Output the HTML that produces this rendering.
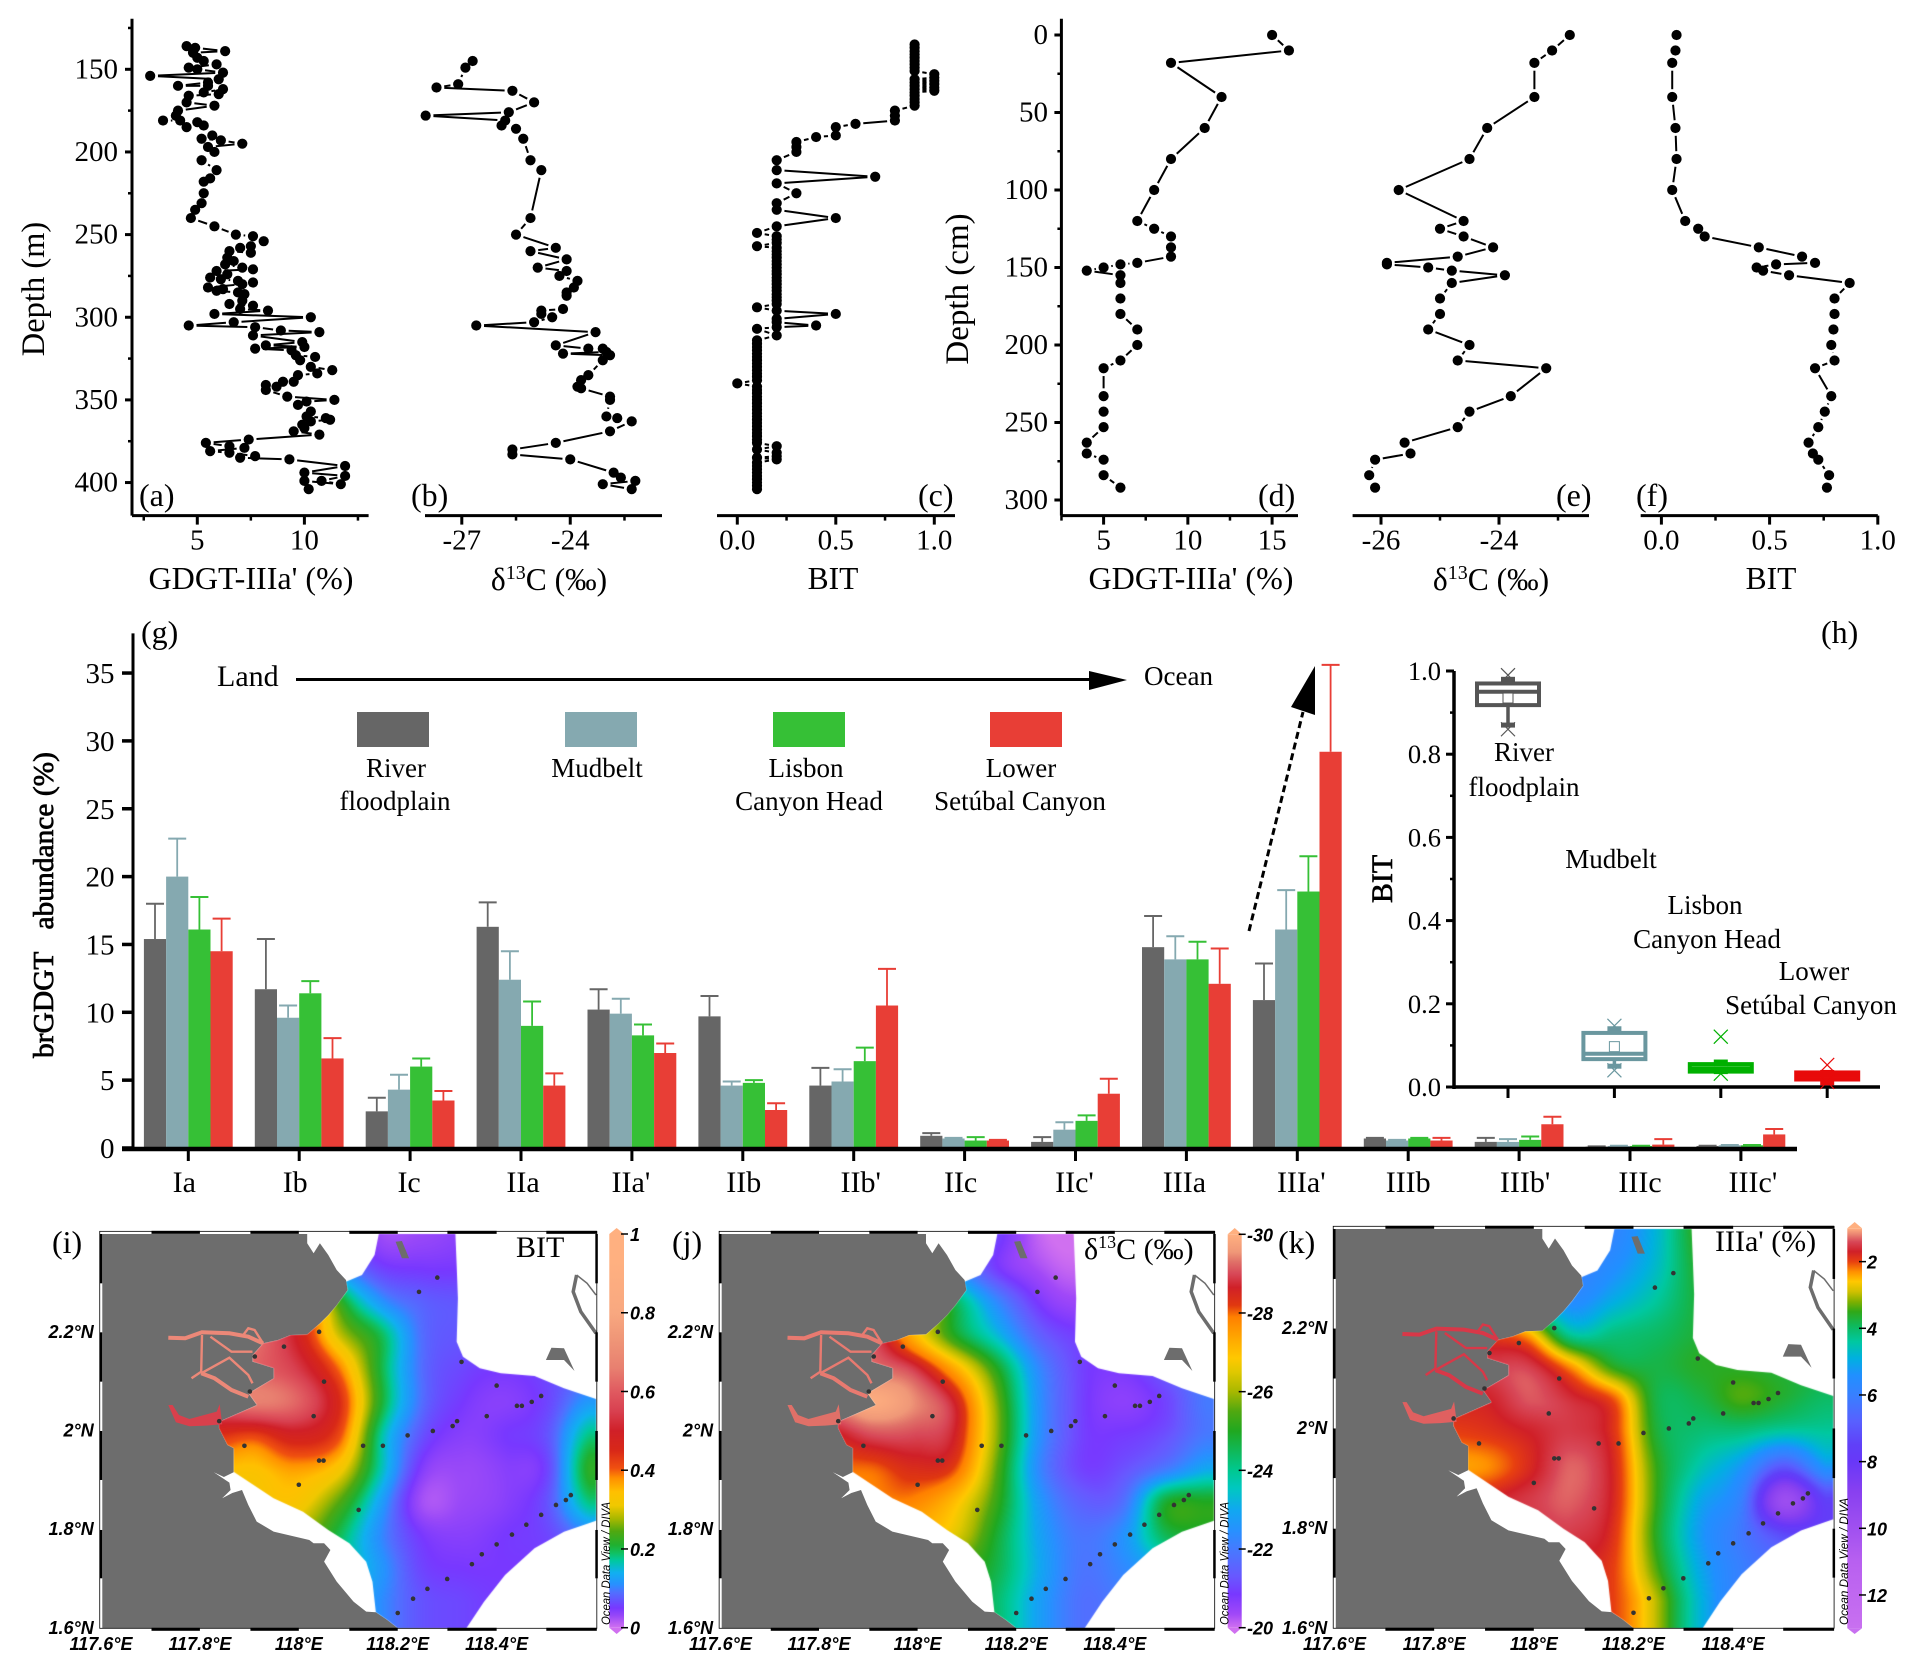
<!DOCTYPE html>
<html lang="en">
<head>
<meta charset="utf-8">
<title>brGDGT depth profiles, abundance and maps</title>
<style>
html,body{margin:0;padding:0;background:#fff;}
#page{position:relative;width:1916px;height:1676px;overflow:hidden;background:#fff;}
#maps-canvas{position:absolute;left:0;top:0;}
#figure{position:absolute;left:0;top:0;}
text{font-family:"Liberation Serif",serif;fill:#000;}
.t29{font-size:29px;}
.t31{font-size:31.5px;}
.t30{font-size:30px;}
.t32{font-size:32px;}
.t27{font-size:27px;}
.mp{font-family:"Liberation Sans",sans-serif;font-style:italic;font-weight:bold;font-size:18px;}
.odv{font-family:"Liberation Sans",sans-serif;font-style:italic;font-size:12px;}
</style>
</head>
<body>
<div id="page">
<canvas id="maps-canvas" width="1916" height="1676"></canvas>
<svg id="figure" width="1916" height="1676" viewBox="0 0 1916 1676" xmlns="http://www.w3.org/2000/svg">
  <defs id="defs"></defs>
  <g id="plots"></g>
  <g id="static-labels">
    <text class="t32" x="139" y="506">(a)</text>
    <text class="t32" x="411" y="506">(b)</text>
    <text class="t32" x="918" y="506">(c)</text>
    <text class="t32" x="1258" y="506">(d)</text>
    <text class="t32" x="1556" y="506">(e)</text>
    <text class="t32" x="1636" y="506">(f)</text>
    <text class="t32" x="141" y="643">(g)</text>
    <text class="t32" x="1821" y="643">(h)</text>
    <text class="t32" x="52" y="1253">(i)</text>
    <text class="t32" x="672" y="1253">(j)</text>
    <text class="t32" x="1278" y="1253">(k)</text>

    <text class="t31" x="251" y="589" text-anchor="middle" textLength="205" lengthAdjust="spacingAndGlyphs">GDGT-IIIa' (%)</text>
    <text class="t31" x="549" y="590" text-anchor="middle">δ<tspan dy="-11" font-size="20">13</tspan><tspan dy="11">C (‰)</tspan></text>
    <text class="t31" x="833" y="589" text-anchor="middle">BIT</text>
    <text class="t31" x="1191" y="589" text-anchor="middle" textLength="205" lengthAdjust="spacingAndGlyphs">GDGT-IIIa' (%)</text>
    <text class="t31" x="1491" y="590" text-anchor="middle">δ<tspan dy="-11" font-size="20">13</tspan><tspan dy="11">C (‰)</tspan></text>
    <text class="t31" x="1771" y="589" text-anchor="middle">BIT</text>
    <text transform="translate(44,289) rotate(-90)" text-anchor="middle" font-size="32.5">Depth (m)</text>
    <text transform="translate(968,289) rotate(-90)" text-anchor="middle" font-size="33">Depth (cm)</text>
    <text transform="translate(53,905) rotate(-90)" text-anchor="middle" font-size="28" textLength="306" lengthAdjust="spacingAndGlyphs" style="stroke:#000;stroke-width:.7px">brGDGT&#160;&#160;&#160;abundance (%)</text>
    <text transform="translate(1392,879) rotate(-90)" text-anchor="middle" font-size="30" style="stroke:#000;stroke-width:.6px">BIT</text>

    <text class="t30" x="217" y="686">Land</text>
    <text class="t27" x="1144" y="685">Ocean</text>

    <text class="t27" x="396" y="777" text-anchor="middle">River</text>
    <text class="t27" x="395" y="810" text-anchor="middle">floodplain</text>
    <text class="t27" x="597" y="777" text-anchor="middle">Mudbelt</text>
    <text class="t27" x="806" y="777" text-anchor="middle">Lisbon</text>
    <text class="t27" x="809" y="810" text-anchor="middle">Canyon Head</text>
    <text class="t27" x="1021" y="777" text-anchor="middle">Lower</text>
    <text class="t27" x="1020" y="810" text-anchor="middle">Setúbal Canyon</text>

    <text class="t27" x="1524" y="761" text-anchor="middle">River</text>
    <text class="t27" x="1524" y="796" text-anchor="middle">floodplain</text>
    <text class="t27" x="1611" y="868" text-anchor="middle">Mudbelt</text>
    <text class="t27" x="1705" y="914" text-anchor="middle">Lisbon</text>
    <text class="t27" x="1707" y="948" text-anchor="middle">Canyon Head</text>
    <text class="t27" x="1814" y="980" text-anchor="middle">Lower</text>
    <text class="t27" x="1811" y="1014" text-anchor="middle">Setúbal Canyon</text>
  </g>
  <g id="map-overlays"></g>
  <g id="map-titles">
    <text class="t30" x="516" y="1257">BIT</text>
    <text class="t30" x="1084" y="1259">δ<tspan dy="-11" font-size="18">13</tspan><tspan dy="11">C (‰)</tspan></text>
    <text class="t30" x="1715" y="1251">IIIa' (%)</text>
  </g>
</svg>
</div>
<script>
/* ---------- depth profile data ---------- */
const depthA=[136,137,139,140,143,145,147,149,150,152,154,156,158,160,160,162,164,165,166,170,172,175,178,181,181,185,182,184,190,192,193,195,197,200,205,211,216,218,225,231,235,240,245,250,251,254,257,258,261,260,264,266,268,270,271,272,274,276,277,278,279,280,282,283,284,285,286,290,292,293,295,296,298,300,303,305,306,308,309,311,315,317,318,319,320,323,324,326,330,332,334,335,339,339,341,342,344,348,350,351,353,357,360,361,362,363,365,367,369,371,374,376,378,379,381,382,384,385,386,390,394,396,399,401,399,404];
const gdgtA=[4.5,4.9,6.3,4.8,5,5.3,5.9,4.6,5,6.2,2.8,6,5.5,4.1,5.5,6.2,5.3,6,4.6,4.5,5.8,4.1,4,3.4,4.2,4.5,5,5.3,5.7,5.2,6.1,7.1,5.5,5.8,5.2,5.9,5.6,5.3,5.3,5.2,4.9,4.7,5.8,6.8,7.6,8.1,7.5,7,7.5,6.5,6.4,6.7,6.3,7.1,7.6,5.9,6.4,5.6,6.1,6.9,7.6,7.1,5.5,6.2,5.9,6.9,7.2,7.1,6.5,7.6,7,8.3,5.8,10.3,6.7,4.6,7.7,8.9,10.7,7.6,9.9,8.2,10,7.7,9.4,9.6,10.5,9.8,10.3,11.3,10.6,9.7,9.5,9,8.2,8.7,8.2,9.2,11.4,10.1,9.7,10.3,10.1,11,11.2,10.3,9.9,10,9.5,10.7,7.4,5.4,6.5,7.2,5.6,6.5,7.7,7,9.3,11.9,10,11.9,10.8,11.7,10,10.2];
const depthB=[145,149,159,161,163,170,176,178,181,184,186,192,205,211,240,250,258,260,265,270,272,275,278,282,285,287,295,296,298,300,303,305,309,317,319,319,321,322,323,326,335,338,342,343,348,350,360,361,363,369,376,380,383,386,394,397,399,401,404];
const d13cB=[-26.7,-26.9,-27.1,-27.7,-25.6,-25,-25.7,-28,-25.8,-25.9,-25.5,-25.3,-25.1,-24.8,-25.1,-25.5,-24.4,-25.1,-24.1,-24.9,-24.1,-24.3,-23.8,-23.9,-24.1,-24.1,-24.2,-24.8,-24.8,-24.5,-25,-26.6,-23.3,-24.4,-23.5,-23.1,-23,-24.2,-22.9,-23.1,-23.5,-23.7,-23.8,-23.7,-22.9,-22.9,-23,-22.7,-22.3,-22.9,-24.4,-25.6,-25.6,-24,-22.8,-22.6,-22.2,-23.1,-22.3];
const depthC=[135,137,139,141,143,145,147,149,151,153,155,156,157,158,159,160,161,162,163,164,166,168,170,172,175,178,181,183,185,190,191,194,197,200,205,211,215,219,225,231,235,240,245,249,251,253,255,257,258,260,262,264,266,268,270,272,274,276,278,280,282,284,286,288,290,292,294,296,298,301,303,305,306,307,311,314,316,318,320,322,324,326,328,330,332,334,336,338,340,342,344,346,348,350,352,354,356,358,360,362,364,366,368,370,372,374,376,378,380,382,384,385,386,388,390,392,394,396,398,400,402,404];
const bitC=[.9,.9,.9,.9,.9,.9,.9,.9,.9,1,1,.9,1,.9,1,.9,1,.9,1,.9,.9,.9,.9,.9,.8,.8,.8,.6,.5,.5,.4,.3,.3,.3,.2,.2,.7,.2,.3,.2,.2,.5,.2,.1,.2,.2,.2,.1,.2,.2,.2,.2,.2,.2,.2,.2,.2,.2,.2,.2,.2,.2,.2,.2,.2,.2,.1,.2,.5,.2,.2,.4,.2,.1,.2,.1,.1,.1,.1,.1,.1,.1,.1,.1,.1,.1,.1,.1,0,.1,.1,.1,.1,.1,.1,.1,.1,.1,.1,.1,.1,.1,.1,.1,.1,.1,.1,.2,.1,.2,.2,.1,.2,.1,.1,.1,.1,.1,.1,.1,.1,.1];
const coreDepth=[0,10,18,40,60,80,100,120,125,130,137,143,147,148,150,152,155,160,170,180,190,200,210,215,233,243,253,263,270,274,284,292];
const coreGdgt=[15,16,9,12,11,9,8,7,8,9,9,9,7,6,5,4,6,6,6,6,7,7,6,5,5,5,5,4,4,5,5,6];
const coreD13c=[-22.8,-23.1,-23.4,-23.4,-24.2,-24.5,-25.7,-24.6,-25,-24.6,-24.1,-24.7,-25.9,-25.9,-25.2,-24.8,-23.9,-24.8,-25,-25,-25.2,-24.5,-24.7,-23.2,-23.8,-24.5,-24.7,-25.6,-25.5,-26.1,-26.2,-26.1];
const coreBit=[.07,.065,.05,.05,.065,.07,.05,.11,.17,.2,.45,.65,.71,.53,.44,.47,.59,.87,.8,.8,.795,.785,.8,.71,.785,.755,.725,.68,.7,.725,.775,.765];

/* ---------- tick labels ---------- */
const depthTicksM=[150,200,250,300,350,400];
const depthTicksCm=[0,50,100,150,200,250,300];
const gdgtTicksA=[5,10];
const d13cTicksB=[-27,-24];
const bitTicks=[0,0.5,1];
const gdgtTicksD=[5,10,15];
const d13cTicksE=[-26,-24];
const abundanceTicks=[0,5,10,15,20,25,30,35];
const boxTicks=[0,0.2,0.4,0.6,0.8,1];

/* ---------- bar chart data ---------- */
const categories=["Ia","Ib","Ic","IIa","IIa'","IIb","IIb'","IIc","IIc'","IIIa","IIIa'","IIIb","IIIb'","IIIc","IIIc'"];
const riverMean=[15.4,11.7,2.7,16.3,10.2,9.7,4.6,.9,.45,14.8,10.9,.7,.45,.1,.15];
const riverTop=[18,15.4,3.7,18.1,11.7,11.2,5.9,1.1,.8,17.1,13.6,.75,.75,.12,.17];
const mudMean=[20,9.6,4.3,12.4,9.9,4.6,4.9,.7,1.35,13.9,16.1,.55,.45,.15,.2];
const mudTop=[22.8,10.5,5.4,14.5,11,4.9,5.8,.75,1.9,15.6,19,.6,.65,.17,.22];
const lisbonMean=[16.1,11.4,6,9,8.3,4.8,6.4,.55,2,13.9,18.9,.7,.6,.15,.2];
const lisbonTop=[18.5,12.3,6.6,10.8,9.1,5,7.4,.8,2.4,15.2,21.5,.75,.85,.17,.22];
const setubalMean=[14.5,6.6,3.5,4.6,7,2.8,10.5,.55,4,12.1,29.2,.55,1.75,.25,1];
const setubalTop=[16.9,8.1,4.2,5.5,7.7,3.3,13.2,.6,5.1,14.7,35.6,.75,2.3,.65,1.4];

/* ---------- box plot data ---------- */
const boxQ1=[.918,.067,.037,.018];
const boxMedian=[.95,.08,.045,.027];
const boxQ3=[.97,.13,.055,.035];
const boxLow=[.87,.05,.037,.01];
const boxHigh=[.98,.14,.06,.035];
const boxAverage=[.935,.097,.045,.027];
const boxOutMin=[.86,.04,.032,.012];
const boxOutMax=[.99,.147,.121,.053];

/* ---------- map data: interpolated station values on a coarse grid ---------- */
const bitGrid=[
[.2,.2,.15,.1,.03,.03,.04,.05,.05,.05],
[.3,.3,.2,.12,.06,.05,.05,.05,.05,.05],
[.6,.6,.5,.24,.12,.08,.07,.06,.06,.06],
[.66,.64,.5,.3,.2,.09,.07,.06,.05,.06],
[.68,.62,.55,.4,.21,.09,.06,.05,.06,.08],
[.6,.66,.62,.46,.22,.09,.05,.04,.06,.12],
[.45,.42,.48,.42,.18,.07,.04,.05,.07,.18],
[.35,.34,.37,.33,.17,.045,.03,.04,.06,.22],
[.3,.32,.33,.25,.13,.025,.03,.04,.07,.18],
[.28,.28,.28,.2,.11,.05,.04,.05,.06,.1],
[.2,.2,.2,.18,.12,.06,.05,.05,.05,.05],
[.15,.15,.15,.15,.11,.07,.06,.05,.05,.05]];
const d13cGrid=[
[-25,-25,-24,-22,-21,-20.1,-20.05,-21,-21,-21],
[-26,-26,-25,-22.5,-20.9,-20.3,-20.1,-20.8,-20.8,-21],
[-28,-28,-27,-24.5,-22.3,-20.8,-20.4,-20.8,-20.8,-21],
[-29,-29,-27.2,-25,-23.3,-21.5,-20.9,-20.9,-20.9,-21],
[-29.5,-29.3,-28.9,-27.3,-25,-22.3,-21,-20.8,-21.3,-22],
[-29.5,-29.9,-29.5,-28.6,-25.7,-22.5,-21,-20.6,-21,-22],
[-28.5,-29,-29,-28.6,-25.8,-22.5,-21,-20.9,-21.2,-22],
[-28,-28,-28.4,-28.1,-25.5,-22.3,-21,-21.2,-22,-23],
[-27.8,-27.8,-27.8,-27,-25.2,-22.7,-21.5,-21.8,-24.8,-25],
[-27,-27,-27,-26.5,-24.8,-22.9,-21.9,-22.5,-24.5,-24.8],
[-26,-26,-26,-25.5,-24.6,-23,-21.9,-22.3,-23,-23.5],
[-25,-25,-25,-25,-24.3,-22.8,-21.8,-22,-22,-22]];
const iiiaGrid=[
[6,6,6,6,5.8,4.8,3.5,3.8,3.8,3.8],
[6,6,6,6,5.5,4.7,3.6,3.6,3.6,3.6],
[3,3,5,5.6,5,4.4,3.7,3.6,3.6,3.6],
[1.6,2,2.6,4.5,4.2,4,3.7,3.6,3.6,3.7],
[1.5,1.5,1.5,2.4,3.6,3.8,3.6,3.6,3.7,3.8],
[1.7,1.7,1.35,1.6,2.1,3.8,3.8,3.4,3.7,4],
[2,1.9,1.7,1.5,1.9,3.7,4.1,4.2,4.5,4.4],
[2.4,2.3,1.8,1.3,1.8,3.5,4.5,5.3,7,5.3],
[1.8,1.7,1.5,1.32,1.8,3.5,5,6,9.8,7.5],
[1.6,1.6,1.6,1.5,1.9,3.6,5.2,6.2,7.3,7.5],
[1.8,1.8,1.8,1.8,2,3.4,5,6,6.5,6.5],
[1.8,1.8,1.8,1.8,2,3,4.8,6,6,6]];
const stationLon=[118.28,118.243,118.041,117.97,117.911,118.051,117.901,118.4,118.49,118.471,118.451,118.441,118.38,118.32,118.311,118.271,118.22,118.17,118.13,118.03,117.839,117.89,118.041,118.05,118,118.121,118.55,118.54,118.52,118.49,118.46,118.431,118.4,118.37,118.35,118.3,118.26,118.231,118.2,118.329];
const stationLat=[2.311,2.282,2.201,2.171,2.151,2.1,2.08,2.092,2.071,2.059,2.051,2.051,2.03,2.02,2.01,2,1.991,1.97,1.97,2.03,2.02,1.97,1.94,1.94,1.891,1.84,1.87,1.86,1.85,1.83,1.81,1.79,1.77,1.75,1.73,1.7,1.68,1.66,1.631,2.14];
const lonTicks=[117.6,117.8,118,118.2,118.4];
const lonTickLabels=["117.6°E","117.8°E","118°E","118.2°E","118.4°E"];
const latTicks=[1.6,1.8,2,2.2];
const latTickLabels=["1.6°N","1.8°N","2°N","2.2°N"];
const bitScale=[[0,"#d070f0"],[.03,"#9848f8"],[.05,"#7838ff"],[.09,"#5070ff"],[.11,"#2890ff"],[.14,"#10b0f0"],[.17,"#00c8a0"],[.19,"#10c060"],[.21,"#20b030"],[.245,"#50a810"],[.277,"#a8b800"],[.31,"#f0c800"],[.345,"#ffc000"],[.38,"#ff9000"],[.405,"#f05010"],[.45,"#d82818"],[.5,"#d02028"],[.55,"#d84050"],[.6,"#e05a60"],[.66,"#e88070"],[.74,"#f09878"],[.8,"#f8a880"],[.93,"#ffb080"],[1,"#ffb080"]];
const d13cScale=[[-30,"#ffb080"],[-29.55,"#f09878"],[-29.3,"#e07068"],[-29,"#d84858"],[-28.65,"#d02028"],[-28.2,"#e03810"],[-27.9,"#ff8000"],[-27.35,"#ffa800"],[-26.85,"#ffc800"],[-26.5,"#e0c800"],[-26,"#a8b800"],[-25.5,"#50a810"],[-25,"#20a820"],[-24.5,"#10b858"],[-24,"#00c890"],[-23.55,"#00c8c0"],[-23,"#10a8f0"],[-22.45,"#2890ff"],[-21.95,"#4878ff"],[-21.3,"#6858ff"],[-20.85,"#7838ff"],[-20.35,"#a048f8"],[-20,"#d070f0"]];
const iiiaScale=[[1,"#ffb080"],[1.2,"#e88070"],[1.4,"#d84858"],[1.7,"#d02028"],[2,"#e84010"],[2.3,"#ff9000"],[2.6,"#ffc800"],[2.9,"#d0c000"],[3.2,"#80b000"],[3.5,"#30a818"],[3.9,"#10b858"],[4.4,"#00c8a0"],[4.9,"#00b0e0"],[5.4,"#2090ff"],[6,"#3880ff"],[6.8,"#5860ff"],[7.5,"#6040f8"],[8,"#6838f8"],[8.9,"#8840f0"],[10,"#a050f0"],[11,"#b860f0"],[13,"#c870f0"]];
const bitBarTicks=[0,.2,.4,.6,.8,1];
const d13cBarTicks=[-20,-22,-24,-26,-28,-30];
const iiiaBarTicks=[2,4,6,8,10,12];

/* ---------- helpers ---------- */
const NS="http://www.w3.org/2000/svg";
const plots=document.getElementById("plots");
const overlays=document.getElementById("map-overlays");
function mk(tag,attrs,parent){
  const e=document.createElementNS(NS,tag);
  for(const k in attrs){e.setAttribute(k,attrs[k]);}
  if(parent){parent.appendChild(e);}
  return e;
}
function fmt(v,d){return d?v.toFixed(d):String(v);}

/* ---------- scales ---------- */
const yA=d=>69.3+(d-150)*1.653;
const yD=d=>35+d*1.55;
const xA=v=>197.3+(v-5)*21.42;
const xB=v=>461.8+(v+27)*36.15;
const xC=v=>737.3+v*197;
const xD=v=>1103.6+(v-5)*16.85;
const xE=v=>1381+(v+26)*59;
const xF=v=>1661.4+v*216.4;
const yG=v=>1148-v*13.57;
const xG=i=>188.3+i*110.9;
const yH=v=>1087-v*416;
const xH=i=>1508+i*106.4;

/* ---------- axes ---------- */
function axisLine(x1,y1,x2,y2,w,parent){
  const l=mk("line",{x1:x1,y1:y1,x2:x2,y2:y2,stroke:"#000","stroke-width":w},parent);
  
  
}
function tickMark(x1,y1,x2,y2,w,parent){
  const l=mk("line",{x1:x1,y1:y1,x2:x2,y2:y2,stroke:"#000","stroke-width":w},parent);
  
  
}
function tickText(x,y,str,anchor,size,parent){
  const t=mk("text",{x:x,y:y,"text-anchor":anchor,"font-size":size},parent);
  t.textContent=str;
  
  
}
function xAxis(x0,x1,yPos,scale,ticks,step,digits,parent){
  axisLine(x0,yPos,x1,yPos,3,parent);
  ticks.forEach(v=>{
    tickMark(scale(v),yPos,scale(v),yPos+9,3,parent);
    tickText(scale(v),yPos+34,fmt(v,digits),"middle",29,parent);
  });
  for(let i=0;i<ticks.length;i++){
    const m=ticks[i]+step/2;
    if(scale(m)<=x1){tickMark(scale(m),yPos,scale(m),yPos+5,2.5,parent);}
  }
  const m0=ticks[0]-step/2;
  if(scale(m0)>=x0){tickMark(scale(m0),yPos,scale(m0),yPos+5,2.5,parent);}
}
function yAxis(xPos,y0,y1,scale,ticks,step,labelX,parent){
  axisLine(xPos,y0,xPos,y1,3,parent);
  ticks.forEach(v=>{
    tickMark(xPos-7,scale(v),xPos,scale(v),3,parent);
    tickText(labelX,scale(v)+9,String(v),"end",29,parent);
  });
  const first=ticks[0]-step/2;
  if(scale(first)>=y0){tickMark(xPos-4,scale(first),xPos,scale(first),2.5,parent);}
  ticks.forEach(v=>{
    const m=v+step/2;
    if(scale(m)<=y1){tickMark(xPos-4,scale(m),xPos,scale(m),2.5,parent);}
  });
}

/* ---------- profile marks ---------- */
function profile(values,depths,xs,ys,parent){
  const r=5.1, gap=7.8;
  for(let i=0;i<values.length-1;i++){
    const x1=xs(values[i]),y1=ys(depths[i]),x2=xs(values[i+1]),y2=ys(depths[i+1]);
    const dx=x2-x1,dy=y2-y1,len=Math.hypot(dx,dy);
    if(len>gap*2){
      const ux=dx/len,uy=dy/len;
      const s=mk("line",{x1:x1+ux*gap,y1:y1+uy*gap,x2:x2-ux*gap,y2:y2-uy*gap,stroke:"#000","stroke-width":2},parent);
      
      
    }
  }
  values.forEach((v,i)=>{
    const c=mk("circle",{cx:xs(v),cy:ys(depths[i]),r:r,fill:"#000"},parent);
    
    
  });
}

const gA=mk("g",{},plots);


yAxis(132,18.7,515.6,yA,depthTicksM,50,118,gA);
xAxis(132,368.6,515.6,xA,gdgtTicksA,5,0,gA);
profile(gdgtA,depthA,xA,yA,gA);

const gB=mk("g",{},plots);


xAxis(425,662,515.6,xB,d13cTicksB,3,0,gB);
profile(d13cB,depthB,xB,yA,gB);

const gC=mk("g",{},plots);


xAxis(717,955,515.6,xC,bitTicks,.5,1,gC);
profile(bitC,depthC,xC,yA,gC);

const gD=mk("g",{},plots);


yAxis(1061.4,18.7,515.6,yD,depthTicksCm,50,1048,gD);
xAxis(1061.4,1298,515.6,xD,gdgtTicksD,5,0,gD);
profile(coreGdgt,coreDepth,xD,yD,gD);

const gE=mk("g",{},plots);


xAxis(1352.6,1589,515.6,xE,d13cTicksE,2,0,gE);
profile(coreD13c,coreDepth,xE,yD,gE);

const gF=mk("g",{},plots);


xAxis(1640.7,1877.8,515.6,xF,bitTicks,.5,1,gF);
profile(coreBit,coreDepth,xF,yD,gF);

/* ---------- panel g: bars ---------- */
const gG=mk("g",{},plots);


const seriesMeans=[riverMean,mudMean,lisbonMean,setubalMean];
const seriesTops=[riverTop,mudTop,lisbonTop,setubalTop];
const seriesColors=["#666666","#85a9b0","#36c036","#e83e36"];
const BW=22.2;
seriesMeans.forEach((vals,s)=>{
  vals.forEach((v,i)=>{
    const x=xG(i)-44.4+s*BW;
    const cx=x+BW/2;
    const top=seriesTops[s][i];
    const st=mk("line",{x1:cx,y1:yG(v),x2:cx,y2:yG(top),stroke:seriesColors[s],"stroke-width":1.8},gG);
    
    
    const cp=mk("line",{x1:cx-9,y1:yG(top),x2:cx+9,y2:yG(top),stroke:seriesColors[s],"stroke-width":2},gG);
    
    
    const b=mk("rect",{x:x,y:yG(v),width:BW,height:yG(0)-yG(v),fill:seriesColors[s]},gG);
    
    
  });
  const sw=mk("rect",{x:[357,565,773,990][s],y:712,width:72,height:35,fill:seriesColors[s]},gG);
  
  
});
axisLine(133,633.4,133,1149,3,gG);
axisLine(122,1149,1797,1149,4.5,gG);
abundanceTicks.forEach(v=>{
  tickMark(122,yG(v),133,yG(v),3.5,gG);
  tickText(114.5,yG(v)+10,String(v),"end",29,gG);
});
categories.forEach((c,i)=>{
  const nudge=[-4,-4,-1,2,-1,1,7,-4,-1,-2,4,0,6,10,12][i];
  tickMark(xG(i),1149,xG(i),1161,3,gG);
  tickText(xG(i)+nudge,1192,c,"middle",30,gG);
});
const landLine=mk("line",{x1:296,y1:679.5,x2:1095,y2:679.5,stroke:"#000","stroke-width":3},gG);


const landHead=mk("polygon",{points:"1089,671 1127,680 1089,690",fill:"#000"},gG);


const dashLine=mk("line",{x1:1249,y1:931,x2:1303,y2:712,stroke:"#000","stroke-width":3,"stroke-dasharray":"7 4"},gG);


const dashHead=mk("polygon",{points:"1315,666 1291,707 1315,715",fill:"#000"},gG);



/* ---------- panel h: box plot ---------- */
const gH=mk("g",{},plots);


const boxColors=["#555555","#6a979f","#00b000","#e80a0a"];
axisLine(1454,671,1454,1089,3.5,gH);
axisLine(1454,1087,1880,1087,3.5,gH);
boxTicks.forEach(v=>{
  tickMark(1446,yH(v),1454,yH(v),3,gH);
  tickText(1441,yH(v)+9,v.toFixed(1),"end",26.5,gH);
  if(v<1){tickMark(1450,yH(v+.1),1454,yH(v+.1),2.5,gH);}
});
boxQ1.forEach((q,i)=>{
  const cx=xH(i),col=boxColors[i];
  tickMark(cx,1087,cx,1098,3,gH);
  const wh=mk("line",{x1:cx,y1:yH(boxLow[i]),x2:cx,y2:yH(boxHigh[i]),stroke:col,"stroke-width":3.5},gH);
  
  
  [boxLow[i],boxHigh[i]].forEach(w=>{
    const cap=mk("rect",{x:cx-7,y:yH(w)-2.5,width:14,height:5,fill:col},gH);
    
    
  });
  const fill=mk("rect",{x:cx-31,y:yH(boxQ3[i]),width:62,height:Math.max(.5,yH(q)-yH(boxQ3[i])),fill:"#fff",stroke:col,"stroke-width":4},gH);
  
  
  const med=mk("line",{x1:cx-31,y1:yH(boxMedian[i]),x2:cx+31,y2:yH(boxMedian[i]),stroke:col,"stroke-width":4},gH);
  
  
  if(i<2){
    const av=mk("rect",{x:cx-5,y:yH(boxAverage[i])-5,width:10,height:10,fill:"#fff",stroke:col,"stroke-width":1},gH);
    
    
  }
  [boxOutMin[i],boxOutMax[i]].forEach(o=>{
    const xm=mk("path",{d:"M"+(cx-7)+" "+(yH(o)-7)+"L"+(cx+7)+" "+(yH(o)+7)+"M"+(cx+7)+" "+(yH(o)-7)+"L"+(cx-7)+" "+(yH(o)+7),stroke:col,"stroke-width":1.2,fill:"none"},gH);
    
    
  });
});

/* ---------- map geometry (coast traced in map units) ---------- */
const fieldOutline=[[900,57],[1082,57],[1085,150],[1088,250],[1085,380],[1100,425],[1140,460],[1190,475],[1270,483],[1340,520],[1416,552],[1416,917],[1340,950],[1270,1000],[1200,1080],[1150,1160],[1108,1240],[945,1240],[920,1215],[893,1192],[885,1100],[870,1040],[830,985],[780,945],[720,890],[650,850],[555,770],[555,700],[540,690],[520,640],[520,620],[610,570],[590,535],[650,490],[650,460],[600,440],[600,420],[625,385],[660,375],[690,360],[730,358],[760,325],[780,300],[800,270],[826,225],[822,200],[860,180],[890,120]];
const landOutline=[[243,57],[730,57],[730,85],[745,115],[760,85],[780,120],[800,165],[822,195],[826,225],[800,270],[780,300],[760,325],[730,358],[690,360],[660,375],[625,385],[600,420],[600,440],[650,460],[650,490],[590,535],[610,570],[520,620],[520,640],[540,690],[555,700],[555,772],[532,786],[508,772],[545,803],[548,825],[528,850],[552,834],[575,825],[590,870],[610,920],[650,950],[735,975],[745,985],[770,985],[785,1005],[770,1040],[800,1100],[840,1160],[870,1190],[893,1192],[920,1215],[945,1240],[243,1240]];
const islandA=[[940,80],[955,78],[972,130],[955,130]];
const islandB=[[1297,435],[1310,398],[1340,400],[1365,468],[1340,435]];
const reefOuter=[[1370,180],[1362,230],[1380,290],[1416,355]];
const reefInner=[[1370,180],[1395,205],[1416,240]];
const channels=[
 [[400,368],[440,370],[480,352],[545,355],[590,365],[625,385]],
 [[480,360],[478,470],[455,490]],
 [[478,475],[510,490],[550,525],[590,545]],
 [[478,475],[545,428],[590,480],[600,505]],
 [[500,365],[550,410],[600,410]],
 [[575,365],[590,340],[605,345],[625,385]]
];
const lowerChannel=[[400,570],[410,570],[425,600],[450,612],[515,590],[522,568],[528,628],[490,632],[450,634],[418,622]];
const frameHoriz=[[360,475],[595,710],[830,945],[1063,1180],[1298,1418]];
const frameVert=[[57,205],[352,500],[648,795],[945,1090]];

const mapPanels=[
 {name:"bit",grid:bitGrid,scale:bitScale,x0:101,sx:.4209,y0:1234,sy:.3333,chan:"#ec8878",low:"#d8404c",
  bx:609.3,bw:14.7,vTop:1,vBot:0,yTop:1234,yBot:1627.7,tipT:1228,tipB:1634,ticks:bitBarTicks,lab:630,odvX:610,odvTop:1502},
 {name:"d13c",grid:d13cGrid,scale:d13cScale,x0:720.4,sx:.4196,y0:1234,sy:.3333,chan:"#e87a70",low:"#e07068",
  bx:1227.7,bw:14,vTop:-30,vBot:-20,yTop:1234.3,yBot:1627.7,tipT:1228,tipB:1634,ticks:d13cBarTicks,lab:1247,odvX:1228.5,odvTop:1502},
 {name:"iiia",grid:iiiaGrid,scale:iiiaScale,x0:1334.5,sx:.4241,y0:1229,sy:.3375,chan:"#d83848",low:"#e06060",
  bx:1847.3,bw:14.7,vTop:1,vBot:13,yTop:1228.3,yBot:1628.3,tipT:1222,tipB:1634,ticks:iiiaBarTicks,lab:1867,odvX:1848,odvTop:1498}
];

/* ---------- colour + interpolation ---------- */
function hexRgb(h){return [parseInt(h.substr(1,2),16),parseInt(h.substr(3,2),16),parseInt(h.substr(5,2),16)];}
function colorAt(s,v){
  if(v<=s[0][0]){return hexRgb(s[0][1]);}
  if(v>=s[s.length-1][0]){return hexRgb(s[s.length-1][1]);}
  for(let i=0;i<s.length-1;i++){
    if(v>=s[i][0]&&v<=s[i+1][0]){
      const t=(v-s[i][0])/(s[i+1][0]-s[i][0]);
      const a=hexRgb(s[i][1]),b=hexRgb(s[i+1][1]);
      return [a[0]+(b[0]-a[0])*t,a[1]+(b[1]-a[1])*t,a[2]+(b[2]-a[2])*t];
    }
  }
  return [0,0,0];
}
function cr(p0,p1,p2,p3,t){
  return .5*((2*p1)+(-p0+p2)*t+(2*p0-5*p1+4*p2-p3)*t*t+(-p0+3*p1-3*p2+p3)*t*t*t);
}
function sample(grid,u,v){
  const gx=Math.max(0,Math.min(9,(u-500)/100));
  const gy=Math.max(0,Math.min(11,(v-60)/100));
  const ix=Math.min(8,Math.floor(gx)),iy=Math.min(10,Math.floor(gy));
  const tx=gx-ix,ty=gy-iy;
  const row=j=>{
    const r=grid[Math.max(0,Math.min(11,j))];
    const at=i=>r[Math.max(0,Math.min(9,i))];
    return cr(at(ix-1),at(ix),at(ix+1),at(ix+2),tx);
  };
  return cr(row(iy-1),row(iy),row(iy+1),row(iy+2),ty);
}

/* ---------- draw maps ---------- */
const ctx=document.getElementById("maps-canvas").getContext("2d");
mapPanels.forEach(p=>{
  const X=u=>p.x0+(u-240)*p.sx;
  const Y=v=>p.y0+(v-57)*p.sy;
  const pts=a=>a.map(q=>X(q[0]).toFixed(1)+","+Y(q[1]).toFixed(1)).join(" ");
  const w=Math.ceil(1180*p.sx)+2,h=Math.ceil(1186*p.sy)+2;
  const off=document.createElement("canvas");
  off.width=w;off.height=h;
  const oc=off.getContext("2d");
  const img=oc.createImageData(w,h);
  for(let j=0;j<h;j++){
    for(let i=0;i<w;i++){
      const u=240+i/p.sx,v=57+j/p.sy;
      const c=colorAt(p.scale,sample(p.grid,u,v));
      const k=(j*w+i)*4;
      img.data[k]=c[0];img.data[k+1]=c[1];img.data[k+2]=c[2];img.data[k+3]=255;
    }
  }
  oc.putImageData(img,0,0);
  ctx.save();
  ctx.beginPath();
  fieldOutline.forEach((q,i)=>{
    if(i){ctx.lineTo(X(q[0]),Y(q[1]));}else{ctx.moveTo(X(q[0]),Y(q[1]));}
  });
  ctx.closePath();
  ctx.clip();
  ctx.drawImage(off,Math.floor(p.x0),Math.floor(p.y0));
  ctx.restore();

  const g=mk("g",{},overlays);
  
  
  const land=mk("polygon",{points:pts(landOutline),fill:"#6d6d6d"},g);
  
  
  [islandA,islandB].forEach(a=>{
    const isl=mk("polygon",{points:pts(a),fill:"#6d6d6d"},g);
    
    
  });
  [reefOuter,reefInner].forEach((a,i)=>{
    const rf=mk("polyline",{points:pts(a),fill:"none",stroke:"#6d6d6d","stroke-width":i?1.5:3.5},g);
    
    
  });
  channels.forEach((a,i)=>{
    const ch=mk("polyline",{points:pts(a),fill:"none",stroke:p.chan,"stroke-width":i==0?4:(i==2?4:2.4)},g);
    
    
  });
  const lc=mk("polygon",{points:pts(lowerChannel),fill:p.low},g);
  
  

  stationLon.forEach((lo,i)=>{
    const u=240+(lo-117.6)*1175,v=1240-(stationLat[i]-1.6)*1480;
    const d=mk("circle",{cx:X(u),cy:Y(v),r:2.3,fill:"#333"},g);
    
    
  });

  /* frame */
  const L=X(237),R=X(1418),T=Y(49),B=Y(1240);
  const fr=mk("rect",{x:L,y:T,width:R-L,height:B-T,fill:"none",stroke:"#000","stroke-width":.8},g);
  
  
  frameHoriz.forEach(q=>{
    const t=mk("rect",{x:X(q[0]),y:T-.5,width:(q[1]-q[0])*p.sx,height:3,fill:"#000"},g);
    
    
    const b=mk("rect",{x:X(q[0]),y:B-.5,width:(q[1]-q[0])*p.sx,height:3,fill:"#000"},g);
    
    
  });
  frameVert.forEach(q=>{
    const t=mk("rect",{x:L,y:Y(q[0]),width:2.5,height:(q[1]-q[0])*p.sy,fill:"#000"},g);
    
    
    const b=mk("rect",{x:R-1.5,y:Y(q[0]),width:2.5,height:(q[1]-q[0])*p.sy,fill:"#000"},g);
    
    
  });

  /* geographic tick labels */
  lonTicks.forEach((lo,i)=>{
    const t=mk("text",{x:X(240+(lo-117.6)*1175),y:1650,"text-anchor":"middle","class":"mp"},g);
    t.textContent=lonTickLabels[i];
    
    
  });
  latTicks.forEach((la,i)=>{
    const t=mk("text",{x:L-6,y:Y(1240-(la-1.6)*1480)+5.5,"text-anchor":"end","class":"mp"},g);
    t.textContent=latTickLabels[i];
    
    
  });

  /* colour bar */
  const gid="grad-"+p.name;
  const lg=mk("linearGradient",{id:gid,x1:0,y1:0,x2:0,y2:1},document.getElementById("defs"));
  const span=p.vBot-p.vTop;
  const ordered=p.scale.map(q=>[(q[0]-p.vTop)/span,q[1]]).sort((a,b)=>a[0]-b[0]);
  ordered.forEach(q=>{
    mk("stop",{offset:q[0],"stop-color":q[1]},lg);
  });
  const by=v=>p.yTop+(v-p.vTop)/span*(p.yBot-p.yTop);
  const bar=mk("rect",{x:p.bx,y:p.yTop,width:p.bw,height:p.yBot-p.yTop,fill:"url(#"+gid+")"},g);
  
  
  const topTip=mk("polygon",{points:p.bx+","+p.yTop+" "+(p.bx+p.bw/2)+","+p.tipT+" "+(p.bx+p.bw)+","+p.yTop,fill:ordered[0][1]},g);
  
  
  const botTip=mk("polygon",{points:p.bx+","+p.yBot+" "+(p.bx+p.bw/2)+","+p.tipB+" "+(p.bx+p.bw)+","+p.yBot,fill:ordered[ordered.length-1][1]},g);
  
  
  p.ticks.forEach(v=>{
    const tk=mk("line",{x1:p.bx+p.bw-3,y1:by(v),x2:p.bx+p.bw+4,y2:by(v),stroke:"#000","stroke-width":1.5},g);
    
    
    const lb=mk("text",{x:p.lab,y:by(v)+7,"class":"mp"},g);
    lb.textContent=String(v);
    
    
  });
  const od=mk("text",{transform:"translate("+p.odvX+",1625) rotate(-90)","class":"odv",textLength:1625-p.odvTop,lengthAdjust:"spacingAndGlyphs"},g);
  od.textContent="Ocean Data View / DIVA";
  
  
});
</script>
</body>
</html>
